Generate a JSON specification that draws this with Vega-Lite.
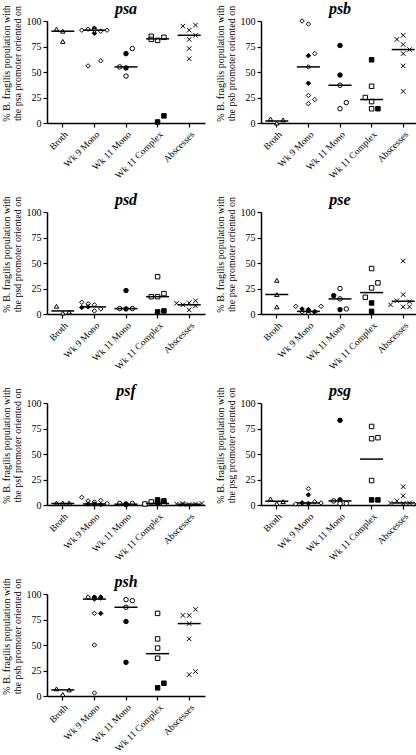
{
"$schema":"https://vega.github.io/schema/vega-lite/v6.json",
"padding":{"left":1,"top":0,"right":0,"bottom":0},
"columns":2,
"spacing":{"row":11,"column":8},
"datasets":{
"pts":[
{"g":"psa","grp":"Broth","f":"open","r":2,"v":92},{"g":"psa","grp":"Broth","f":"open","r":3,"v":90},{"g":"psa","grp":"Broth","f":"open","r":3,"v":80},
{"g":"psa","grp":"Wk 9 Mono","f":"open","r":1,"v":91},{"g":"psa","grp":"Wk 9 Mono","f":"open","r":2,"v":92},{"g":"psa","grp":"Wk 9 Mono","f":"open","r":4,"v":90},{"g":"psa","grp":"Wk 9 Mono","f":"open","r":5,"v":91},{"g":"psa","grp":"Wk 9 Mono","f":"solid","r":3,"v":93},{"g":"psa","grp":"Wk 9 Mono","f":"solid","r":3,"v":88},{"g":"psa","grp":"Wk 9 Mono","f":"open","r":2,"v":56},{"g":"psa","grp":"Wk 9 Mono","f":"open","r":4,"v":61},{"g":"psa","grp":"Wk 9 Mono","f":"open","r":3,"v":91},
{"g":"psa","grp":"Wk 11 Mono","f":"open","r":2,"v":55},{"g":"psa","grp":"Wk 11 Mono","f":"open","r":3,"v":46},{"g":"psa","grp":"Wk 11 Mono","f":"open","r":4,"v":73},{"g":"psa","grp":"Wk 11 Mono","f":"solid","r":3,"v":68},{"g":"psa","grp":"Wk 11 Mono","f":"solid","r":3,"v":54},
{"g":"psa","grp":"Wk 11 Complex","f":"open","r":2,"v":85},{"g":"psa","grp":"Wk 11 Complex","f":"open","r":2,"v":82},{"g":"psa","grp":"Wk 11 Complex","f":"open","r":3,"v":81},{"g":"psa","grp":"Wk 11 Complex","f":"open","r":4,"v":84},{"g":"psa","grp":"Wk 11 Complex","f":"solid","r":3,"v":1},{"g":"psa","grp":"Wk 11 Complex","f":"solid","r":4,"v":7},
{"g":"psa","grp":"Abscesses","f":"open","r":2,"v":95},{"g":"psa","grp":"Abscesses","f":"open","r":3,"v":91},{"g":"psa","grp":"Abscesses","f":"open","r":4,"v":96},{"g":"psa","grp":"Abscesses","f":"open","r":3,"v":82},{"g":"psa","grp":"Abscesses","f":"open","r":3,"v":73},{"g":"psa","grp":"Abscesses","f":"open","r":3,"v":63},{"g":"psa","grp":"Abscesses","f":"open","r":4,"v":86},

{"g":"psb","grp":"Broth","f":"open","r":2,"v":4},{"g":"psb","grp":"Broth","f":"open","r":3,"v":0},{"g":"psb","grp":"Broth","f":"open","r":4,"v":3},
{"g":"psb","grp":"Wk 9 Mono","f":"open","r":2,"v":100},{"g":"psb","grp":"Wk 9 Mono","f":"open","r":3,"v":97},{"g":"psb","grp":"Wk 9 Mono","f":"open","r":4,"v":68},{"g":"psb","grp":"Wk 9 Mono","f":"open","r":3,"v":55},{"g":"psb","grp":"Wk 9 Mono","f":"open","r":3,"v":27},{"g":"psb","grp":"Wk 9 Mono","f":"open","r":4,"v":23},{"g":"psb","grp":"Wk 9 Mono","f":"open","r":3,"v":19},{"g":"psb","grp":"Wk 9 Mono","f":"solid","r":3,"v":66},{"g":"psb","grp":"Wk 9 Mono","f":"solid","r":3,"v":39},
{"g":"psb","grp":"Wk 11 Mono","f":"solid","r":3,"v":76},{"g":"psb","grp":"Wk 11 Mono","f":"solid","r":3,"v":47},{"g":"psb","grp":"Wk 11 Mono","f":"open","r":3,"v":37},{"g":"psb","grp":"Wk 11 Mono","f":"open","r":3,"v":14},{"g":"psb","grp":"Wk 11 Mono","f":"open","r":4,"v":20},
{"g":"psb","grp":"Wk 11 Complex","f":"solid","r":3,"v":62},{"g":"psb","grp":"Wk 11 Complex","f":"solid","r":4,"v":14},{"g":"psb","grp":"Wk 11 Complex","f":"open","r":3,"v":36},{"g":"psb","grp":"Wk 11 Complex","f":"open","r":2,"v":25},{"g":"psb","grp":"Wk 11 Complex","f":"open","r":3,"v":21},{"g":"psb","grp":"Wk 11 Complex","f":"open","r":3,"v":14},
{"g":"psb","grp":"Abscesses","f":"open","r":2,"v":82},{"g":"psb","grp":"Abscesses","f":"open","r":3,"v":86},{"g":"psb","grp":"Abscesses","f":"open","r":3,"v":77},{"g":"psb","grp":"Abscesses","f":"open","r":4,"v":72},{"g":"psb","grp":"Abscesses","f":"open","r":3,"v":68},{"g":"psb","grp":"Abscesses","f":"open","r":3,"v":56},{"g":"psb","grp":"Abscesses","f":"open","r":3,"v":31},

{"g":"psd","grp":"Broth","f":"open","r":2,"v":7.6},{"g":"psd","grp":"Broth","f":"open","r":3,"v":1},{"g":"psd","grp":"Broth","f":"open","r":4,"v":2},
{"g":"psd","grp":"Wk 9 Mono","f":"open","r":1,"v":11.5},{"g":"psd","grp":"Wk 9 Mono","f":"open","r":2,"v":10},{"g":"psd","grp":"Wk 9 Mono","f":"open","r":3,"v":9},{"g":"psd","grp":"Wk 9 Mono","f":"open","r":4,"v":5},{"g":"psd","grp":"Wk 9 Mono","f":"open","r":3,"v":3},{"g":"psd","grp":"Wk 9 Mono","f":"solid","r":1,"v":6.3},{"g":"psd","grp":"Wk 9 Mono","f":"solid","r":2,"v":7},
{"g":"psd","grp":"Wk 11 Mono","f":"solid","r":3,"v":23},{"g":"psd","grp":"Wk 11 Mono","f":"solid","r":3,"v":5},{"g":"psd","grp":"Wk 11 Mono","f":"open","r":2,"v":5.3},{"g":"psd","grp":"Wk 11 Mono","f":"open","r":4,"v":5.3},
{"g":"psd","grp":"Wk 11 Complex","f":"open","r":3,"v":36.6},{"g":"psd","grp":"Wk 11 Complex","f":"open","r":4,"v":20},{"g":"psd","grp":"Wk 11 Complex","f":"open","r":2,"v":17},{"g":"psd","grp":"Wk 11 Complex","f":"open","r":3,"v":17},{"g":"psd","grp":"Wk 11 Complex","f":"solid","r":3,"v":2},{"g":"psd","grp":"Wk 11 Complex","f":"solid","r":4,"v":3},
{"g":"psd","grp":"Abscesses","f":"open","r":1,"v":10.5},{"g":"psd","grp":"Abscesses","f":"open","r":2,"v":9},{"g":"psd","grp":"Abscesses","f":"open","r":3,"v":11},{"g":"psd","grp":"Abscesses","f":"open","r":4,"v":13},{"g":"psd","grp":"Abscesses","f":"open","r":3,"v":4},{"g":"psd","grp":"Abscesses","f":"open","r":4,"v":8},

{"g":"pse","grp":"Broth","f":"open","r":3,"v":33},{"g":"pse","grp":"Broth","f":"open","r":3,"v":19},{"g":"pse","grp":"Broth","f":"open","r":3,"v":7},
{"g":"pse","grp":"Wk 9 Mono","f":"open","r":1,"v":7.5},{"g":"pse","grp":"Wk 9 Mono","f":"open","r":5,"v":7.5},{"g":"pse","grp":"Wk 9 Mono","f":"open","r":2,"v":2},{"g":"pse","grp":"Wk 9 Mono","f":"open","r":4,"v":1.5},{"g":"pse","grp":"Wk 9 Mono","f":"open","r":3,"v":1},{"g":"pse","grp":"Wk 9 Mono","f":"solid","r":2,"v":5},{"g":"pse","grp":"Wk 9 Mono","f":"solid","r":3,"v":4.5},{"g":"pse","grp":"Wk 9 Mono","f":"solid","r":4,"v":2.5},{"g":"pse","grp":"Wk 9 Mono","f":"solid","r":3,"v":3},
{"g":"pse","grp":"Wk 11 Mono","f":"solid","r":2,"v":18},{"g":"pse","grp":"Wk 11 Mono","f":"solid","r":3,"v":4.3},{"g":"pse","grp":"Wk 11 Mono","f":"open","r":3,"v":25},{"g":"pse","grp":"Wk 11 Mono","f":"open","r":3,"v":14.8},{"g":"pse","grp":"Wk 11 Mono","f":"open","r":4,"v":5},
{"g":"pse","grp":"Wk 11 Complex","f":"open","r":3,"v":44.6},{"g":"pse","grp":"Wk 11 Complex","f":"open","r":4,"v":30.5},{"g":"pse","grp":"Wk 11 Complex","f":"open","r":3,"v":25.6},{"g":"pse","grp":"Wk 11 Complex","f":"open","r":2,"v":16.4},{"g":"pse","grp":"Wk 11 Complex","f":"solid","r":3,"v":10.8},{"g":"pse","grp":"Wk 11 Complex","f":"solid","r":3,"v":2.6},
{"g":"pse","grp":"Abscesses","f":"open","r":3,"v":52},{"g":"pse","grp":"Abscesses","f":"open","r":3,"v":19},{"g":"pse","grp":"Abscesses","f":"open","r":2,"v":13},{"g":"pse","grp":"Abscesses","f":"open","r":4,"v":12},{"g":"pse","grp":"Abscesses","f":"open","r":1,"v":9},{"g":"pse","grp":"Abscesses","f":"open","r":3,"v":7},{"g":"pse","grp":"Abscesses","f":"open","r":4,"v":7},

{"g":"psf","grp":"Broth","f":"open","r":2,"v":2},{"g":"psf","grp":"Broth","f":"open","r":3,"v":2},{"g":"psf","grp":"Broth","f":"open","r":4,"v":2},
{"g":"psf","grp":"Wk 9 Mono","f":"open","r":1,"v":7.5},{"g":"psf","grp":"Wk 9 Mono","f":"open","r":2,"v":4},{"g":"psf","grp":"Wk 9 Mono","f":"open","r":3,"v":3},{"g":"psf","grp":"Wk 9 Mono","f":"open","r":4,"v":4.5},{"g":"psf","grp":"Wk 9 Mono","f":"open","r":5,"v":1.5},{"g":"psf","grp":"Wk 9 Mono","f":"solid","r":2,"v":1},{"g":"psf","grp":"Wk 9 Mono","f":"solid","r":3,"v":1},{"g":"psf","grp":"Wk 9 Mono","f":"solid","r":4,"v":0.5},
{"g":"psf","grp":"Wk 11 Mono","f":"open","r":2,"v":1.5},{"g":"psf","grp":"Wk 11 Mono","f":"open","r":4,"v":1.5},{"g":"psf","grp":"Wk 11 Mono","f":"open","r":3,"v":1},{"g":"psf","grp":"Wk 11 Mono","f":"solid","r":3,"v":0.5},
{"g":"psf","grp":"Wk 11 Complex","f":"open","r":2,"v":3},{"g":"psf","grp":"Wk 11 Complex","f":"open","r":3,"v":2},{"g":"psf","grp":"Wk 11 Complex","f":"open","r":1,"v":1},{"g":"psf","grp":"Wk 11 Complex","f":"open","r":4,"v":1.5},{"g":"psf","grp":"Wk 11 Complex","f":"solid","r":3,"v":5},{"g":"psf","grp":"Wk 11 Complex","f":"solid","r":4,"v":4},{"g":"psf","grp":"Wk 11 Complex","f":"solid","r":3,"v":2},
{"g":"psf","grp":"Abscesses","f":"open","r":1,"v":1},{"g":"psf","grp":"Abscesses","f":"open","r":2,"v":1.5},{"g":"psf","grp":"Abscesses","f":"open","r":3,"v":0.5},{"g":"psf","grp":"Abscesses","f":"open","r":4,"v":1},{"g":"psf","grp":"Abscesses","f":"open","r":5,"v":1.5},{"g":"psf","grp":"Abscesses","f":"open","r":2,"v":0.5},

{"g":"psg","grp":"Broth","f":"open","r":2,"v":6},{"g":"psg","grp":"Broth","f":"open","r":3,"v":1.5},{"g":"psg","grp":"Broth","f":"open","r":4,"v":3.3},
{"g":"psg","grp":"Wk 9 Mono","f":"open","r":3,"v":16},{"g":"psg","grp":"Wk 9 Mono","f":"open","r":2,"v":2},{"g":"psg","grp":"Wk 9 Mono","f":"open","r":4,"v":3},{"g":"psg","grp":"Wk 9 Mono","f":"open","r":1,"v":1},{"g":"psg","grp":"Wk 9 Mono","f":"open","r":5,"v":2},{"g":"psg","grp":"Wk 9 Mono","f":"solid","r":3,"v":10},{"g":"psg","grp":"Wk 9 Mono","f":"solid","r":3,"v":1.5},{"g":"psg","grp":"Wk 9 Mono","f":"solid","r":2,"v":2},
{"g":"psg","grp":"Wk 11 Mono","f":"solid","r":3,"v":83},{"g":"psg","grp":"Wk 11 Mono","f":"solid","r":3,"v":5},{"g":"psg","grp":"Wk 11 Mono","f":"open","r":2,"v":4},{"g":"psg","grp":"Wk 11 Mono","f":"open","r":3,"v":1.5},{"g":"psg","grp":"Wk 11 Mono","f":"open","r":4,"v":1.5},
{"g":"psg","grp":"Wk 11 Complex","f":"open","r":3,"v":77},{"g":"psg","grp":"Wk 11 Complex","f":"open","r":3,"v":65},{"g":"psg","grp":"Wk 11 Complex","f":"open","r":4,"v":66},{"g":"psg","grp":"Wk 11 Complex","f":"open","r":3,"v":24},{"g":"psg","grp":"Wk 11 Complex","f":"solid","r":3,"v":5},{"g":"psg","grp":"Wk 11 Complex","f":"solid","r":4,"v":5},
{"g":"psg","grp":"Abscesses","f":"open","r":3,"v":18},{"g":"psg","grp":"Abscesses","f":"open","r":3,"v":9},{"g":"psg","grp":"Abscesses","f":"open","r":2,"v":4},{"g":"psg","grp":"Abscesses","f":"open","r":1,"v":2},{"g":"psg","grp":"Abscesses","f":"open","r":3,"v":1.5},{"g":"psg","grp":"Abscesses","f":"open","r":4,"v":2},{"g":"psg","grp":"Abscesses","f":"open","r":5,"v":1},

{"g":"psh","grp":"Broth","f":"open","r":2,"v":7},{"g":"psh","grp":"Broth","f":"open","r":3,"v":1.5},{"g":"psh","grp":"Broth","f":"open","r":4,"v":6},
{"g":"psh","grp":"Wk 9 Mono","f":"open","r":2,"v":97},{"g":"psh","grp":"Wk 9 Mono","f":"open","r":4,"v":96},{"g":"psh","grp":"Wk 9 Mono","f":"open","r":3,"v":95},{"g":"psh","grp":"Wk 9 Mono","f":"open","r":3,"v":81},{"g":"psh","grp":"Wk 9 Mono","f":"open","r":3,"v":50},{"g":"psh","grp":"Wk 9 Mono","f":"open","r":3,"v":3},{"g":"psh","grp":"Wk 9 Mono","f":"solid","r":3,"v":97},{"g":"psh","grp":"Wk 9 Mono","f":"solid","r":3,"v":96},{"g":"psh","grp":"Wk 9 Mono","f":"solid","r":4,"v":81},{"g":"psh","grp":"Wk 9 Mono","f":"solid","r":4,"v":97},
{"g":"psh","grp":"Wk 11 Mono","f":"open","r":3,"v":94.5},{"g":"psh","grp":"Wk 11 Mono","f":"open","r":4,"v":93.5},{"g":"psh","grp":"Wk 11 Mono","f":"open","r":3,"v":87},{"g":"psh","grp":"Wk 11 Mono","f":"solid","r":3,"v":73},{"g":"psh","grp":"Wk 11 Mono","f":"solid","r":3,"v":33},
{"g":"psh","grp":"Wk 11 Complex","f":"open","r":3,"v":81},{"g":"psh","grp":"Wk 11 Complex","f":"open","r":3,"v":56},{"g":"psh","grp":"Wk 11 Complex","f":"open","r":3,"v":47},{"g":"psh","grp":"Wk 11 Complex","f":"open","r":3,"v":37},{"g":"psh","grp":"Wk 11 Complex","f":"solid","r":3,"v":8},{"g":"psh","grp":"Wk 11 Complex","f":"solid","r":4,"v":12.5},
{"g":"psh","grp":"Abscesses","f":"open","r":2,"v":79},{"g":"psh","grp":"Abscesses","f":"open","r":3,"v":79},{"g":"psh","grp":"Abscesses","f":"open","r":4,"v":85},{"g":"psh","grp":"Abscesses","f":"open","r":3,"v":71},{"g":"psh","grp":"Abscesses","f":"open","r":3,"v":56},{"g":"psh","grp":"Abscesses","f":"open","r":3,"v":21},{"g":"psh","grp":"Abscesses","f":"open","r":4,"v":24}
],
"med":[
{"g":"psa","grp":"Broth","v":90},{"g":"psa","grp":"Wk 9 Mono","v":91},{"g":"psa","grp":"Wk 11 Mono","v":55},{"g":"psa","grp":"Wk 11 Complex","v":82.5},{"g":"psa","grp":"Abscesses","v":86},
{"g":"psb","grp":"Broth","v":2},{"g":"psb","grp":"Wk 9 Mono","v":55},{"g":"psb","grp":"Wk 11 Mono","v":37},{"g":"psb","grp":"Wk 11 Complex","v":23},{"g":"psb","grp":"Abscesses","v":72},
{"g":"psd","grp":"Broth","v":3},{"g":"psd","grp":"Wk 9 Mono","v":7},{"g":"psd","grp":"Wk 11 Mono","v":5.3},{"g":"psd","grp":"Wk 11 Complex","v":17},{"g":"psd","grp":"Abscesses","v":9},
{"g":"pse","grp":"Broth","v":19},{"g":"pse","grp":"Wk 9 Mono","v":2.6},{"g":"pse","grp":"Wk 11 Mono","v":14.8},{"g":"pse","grp":"Wk 11 Complex","v":21},{"g":"pse","grp":"Abscesses","v":12.5},
{"g":"psf","grp":"Broth","v":1.5},{"g":"psf","grp":"Wk 9 Mono","v":1},{"g":"psf","grp":"Wk 11 Mono","v":0.8},{"g":"psf","grp":"Wk 11 Complex","v":1.5},{"g":"psf","grp":"Abscesses","v":0.8},
{"g":"psg","grp":"Broth","v":3.6},{"g":"psg","grp":"Wk 9 Mono","v":2},{"g":"psg","grp":"Wk 11 Mono","v":4},{"g":"psg","grp":"Wk 11 Complex","v":45},{"g":"psg","grp":"Abscesses","v":2},
{"g":"psh","grp":"Broth","v":6},{"g":"psh","grp":"Wk 9 Mono","v":95},{"g":"psh","grp":"Wk 11 Mono","v":87},{"g":"psh","grp":"Wk 11 Complex","v":41.5},{"g":"psh","grp":"Abscesses","v":71}
]
},
"concat":[
{"title":"psa","width":158,"height":102,"layer":[
{"data":{"name":"pts"},"transform":[{"filter":"datum.g==='psa'"}],"mark":{"type":"point","filled":true,"stroke":"black","strokeWidth":1,"size":20,"opacity":1},
"encoding":{"x":{"field":"grp","type":"nominal","sort":null,"scale":{"domain":["Broth","Wk 9 Mono","Wk 11 Mono","Wk 11 Complex","Abscesses"],"paddingInner":0,"paddingOuter":0},"axis":{"title":null}},
"xOffset":{"field":"r","type":"ordinal","scale":{"domain":[1,2,3,4,5]}},
"y":{"field":"v","type":"quantitative","scale":{"domain":[0,100]},"axis":{"values":[0,25,50,75,100],"labelOverlap":false,"titleY":42,"title":["% B. fragilis population with","the psa promoter oriented on"]}},
"shape":{"field":"grp","type":"nominal","scale":{"domain":["Broth","Wk 9 Mono","Wk 11 Mono","Wk 11 Complex","Abscesses"],"range":["triangle-up","diamond","circle","square","M-1,-1L1,1M-1,1L1,-1"]},"legend":null},
"fill":{"field":"f","type":"nominal","scale":{"domain":["open","solid"],"range":["white","black"]},"legend":null}}},
{"data":{"name":"med"},"transform":[{"filter":"datum.g==='psa'"}],"mark":{"type":"tick","color":"black","thickness":1.5,"size":23,"opacity":1},
"encoding":{"x":{"field":"grp","type":"nominal","sort":null,"axis":{"title":null}},"y":{"field":"v","type":"quantitative","axis":{"values":[0,25,50,75,100],"labelOverlap":false,"titleY":42,"title":["% B. fragilis population with","the psa promoter oriented on"]}}}}]},
{"title":"psb","width":158,"height":102,"layer":[
{"data":{"name":"pts"},"transform":[{"filter":"datum.g==='psb'"}],"mark":{"type":"point","filled":true,"stroke":"black","strokeWidth":1,"size":20,"opacity":1},
"encoding":{"x":{"field":"grp","type":"nominal","sort":null,"scale":{"domain":["Broth","Wk 9 Mono","Wk 11 Mono","Wk 11 Complex","Abscesses"],"paddingInner":0,"paddingOuter":0},"axis":{"title":null}},
"xOffset":{"field":"r","type":"ordinal","scale":{"domain":[1,2,3,4,5]}},
"y":{"field":"v","type":"quantitative","scale":{"domain":[0,100]},"axis":{"values":[0,25,50,75,100],"labelOverlap":false,"titleY":42,"title":["% B. fragilis population with","the psb promoter oriented on"]}},
"shape":{"field":"grp","type":"nominal","scale":{"domain":["Broth","Wk 9 Mono","Wk 11 Mono","Wk 11 Complex","Abscesses"],"range":["triangle-up","diamond","circle","square","M-1,-1L1,1M-1,1L1,-1"]},"legend":null},
"fill":{"field":"f","type":"nominal","scale":{"domain":["open","solid"],"range":["white","black"]},"legend":null}}},
{"data":{"name":"med"},"transform":[{"filter":"datum.g==='psb'"}],"mark":{"type":"tick","color":"black","thickness":1.5,"size":23,"opacity":1},
"encoding":{"x":{"field":"grp","type":"nominal","sort":null,"axis":{"title":null}},"y":{"field":"v","type":"quantitative","axis":{"values":[0,25,50,75,100],"labelOverlap":false,"titleY":42,"title":["% B. fragilis population with","the psb promoter oriented on"]}}}}]},
{"title":"psd","width":158,"height":102,"layer":[
{"data":{"name":"pts"},"transform":[{"filter":"datum.g==='psd'"}],"mark":{"type":"point","filled":true,"stroke":"black","strokeWidth":1,"size":20,"opacity":1},
"encoding":{"x":{"field":"grp","type":"nominal","sort":null,"scale":{"domain":["Broth","Wk 9 Mono","Wk 11 Mono","Wk 11 Complex","Abscesses"],"paddingInner":0,"paddingOuter":0},"axis":{"title":null}},
"xOffset":{"field":"r","type":"ordinal","scale":{"domain":[1,2,3,4,5]}},
"y":{"field":"v","type":"quantitative","scale":{"domain":[0,100]},"axis":{"values":[0,25,50,75,100],"labelOverlap":false,"titleY":42,"title":["% B. fragilis population with","the psd promoter oriented on"]}},
"shape":{"field":"grp","type":"nominal","scale":{"domain":["Broth","Wk 9 Mono","Wk 11 Mono","Wk 11 Complex","Abscesses"],"range":["triangle-up","diamond","circle","square","M-1,-1L1,1M-1,1L1,-1"]},"legend":null},
"fill":{"field":"f","type":"nominal","scale":{"domain":["open","solid"],"range":["white","black"]},"legend":null}}},
{"data":{"name":"med"},"transform":[{"filter":"datum.g==='psd'"}],"mark":{"type":"tick","color":"black","thickness":1.5,"size":23,"opacity":1},
"encoding":{"x":{"field":"grp","type":"nominal","sort":null,"axis":{"title":null}},"y":{"field":"v","type":"quantitative","axis":{"values":[0,25,50,75,100],"labelOverlap":false,"titleY":42,"title":["% B. fragilis population with","the psd promoter oriented on"]}}}}]},
{"title":"pse","width":158,"height":102,"layer":[
{"data":{"name":"pts"},"transform":[{"filter":"datum.g==='pse'"}],"mark":{"type":"point","filled":true,"stroke":"black","strokeWidth":1,"size":20,"opacity":1},
"encoding":{"x":{"field":"grp","type":"nominal","sort":null,"scale":{"domain":["Broth","Wk 9 Mono","Wk 11 Mono","Wk 11 Complex","Abscesses"],"paddingInner":0,"paddingOuter":0},"axis":{"title":null}},
"xOffset":{"field":"r","type":"ordinal","scale":{"domain":[1,2,3,4,5]}},
"y":{"field":"v","type":"quantitative","scale":{"domain":[0,100]},"axis":{"values":[0,25,50,75,100],"labelOverlap":false,"titleY":42,"title":["% B. fragilis population with","the pse promoter oriented on"]}},
"shape":{"field":"grp","type":"nominal","scale":{"domain":["Broth","Wk 9 Mono","Wk 11 Mono","Wk 11 Complex","Abscesses"],"range":["triangle-up","diamond","circle","square","M-1,-1L1,1M-1,1L1,-1"]},"legend":null},
"fill":{"field":"f","type":"nominal","scale":{"domain":["open","solid"],"range":["white","black"]},"legend":null}}},
{"data":{"name":"med"},"transform":[{"filter":"datum.g==='pse'"}],"mark":{"type":"tick","color":"black","thickness":1.5,"size":23,"opacity":1},
"encoding":{"x":{"field":"grp","type":"nominal","sort":null,"axis":{"title":null}},"y":{"field":"v","type":"quantitative","axis":{"values":[0,25,50,75,100],"labelOverlap":false,"titleY":42,"title":["% B. fragilis population with","the pse promoter oriented on"]}}}}]},
{"title":"psf","width":158,"height":102,"layer":[
{"data":{"name":"pts"},"transform":[{"filter":"datum.g==='psf'"}],"mark":{"type":"point","filled":true,"stroke":"black","strokeWidth":1,"size":20,"opacity":1},
"encoding":{"x":{"field":"grp","type":"nominal","sort":null,"scale":{"domain":["Broth","Wk 9 Mono","Wk 11 Mono","Wk 11 Complex","Abscesses"],"paddingInner":0,"paddingOuter":0},"axis":{"title":null}},
"xOffset":{"field":"r","type":"ordinal","scale":{"domain":[1,2,3,4,5]}},
"y":{"field":"v","type":"quantitative","scale":{"domain":[0,100]},"axis":{"values":[0,25,50,75,100],"labelOverlap":false,"titleY":42,"title":["% B. fragilis population with","the psf promoter oriented on"]}},
"shape":{"field":"grp","type":"nominal","scale":{"domain":["Broth","Wk 9 Mono","Wk 11 Mono","Wk 11 Complex","Abscesses"],"range":["triangle-up","diamond","circle","square","M-1,-1L1,1M-1,1L1,-1"]},"legend":null},
"fill":{"field":"f","type":"nominal","scale":{"domain":["open","solid"],"range":["white","black"]},"legend":null}}},
{"data":{"name":"med"},"transform":[{"filter":"datum.g==='psf'"}],"mark":{"type":"tick","color":"black","thickness":1.5,"size":23,"opacity":1},
"encoding":{"x":{"field":"grp","type":"nominal","sort":null,"axis":{"title":null}},"y":{"field":"v","type":"quantitative","axis":{"values":[0,25,50,75,100],"labelOverlap":false,"titleY":42,"title":["% B. fragilis population with","the psf promoter oriented on"]}}}}]},
{"title":"psg","width":158,"height":102,"layer":[
{"data":{"name":"pts"},"transform":[{"filter":"datum.g==='psg'"}],"mark":{"type":"point","filled":true,"stroke":"black","strokeWidth":1,"size":20,"opacity":1},
"encoding":{"x":{"field":"grp","type":"nominal","sort":null,"scale":{"domain":["Broth","Wk 9 Mono","Wk 11 Mono","Wk 11 Complex","Abscesses"],"paddingInner":0,"paddingOuter":0},"axis":{"title":null}},
"xOffset":{"field":"r","type":"ordinal","scale":{"domain":[1,2,3,4,5]}},
"y":{"field":"v","type":"quantitative","scale":{"domain":[0,100]},"axis":{"values":[0,25,50,75,100],"labelOverlap":false,"titleY":42,"title":["% B. fragilis population with","the psg promoter oriented on"]}},
"shape":{"field":"grp","type":"nominal","scale":{"domain":["Broth","Wk 9 Mono","Wk 11 Mono","Wk 11 Complex","Abscesses"],"range":["triangle-up","diamond","circle","square","M-1,-1L1,1M-1,1L1,-1"]},"legend":null},
"fill":{"field":"f","type":"nominal","scale":{"domain":["open","solid"],"range":["white","black"]},"legend":null}}},
{"data":{"name":"med"},"transform":[{"filter":"datum.g==='psg'"}],"mark":{"type":"tick","color":"black","thickness":1.5,"size":23,"opacity":1},
"encoding":{"x":{"field":"grp","type":"nominal","sort":null,"axis":{"title":null}},"y":{"field":"v","type":"quantitative","axis":{"values":[0,25,50,75,100],"labelOverlap":false,"titleY":42,"title":["% B. fragilis population with","the psg promoter oriented on"]}}}}]},
{"title":"psh","width":158,"height":102,"layer":[
{"data":{"name":"pts"},"transform":[{"filter":"datum.g==='psh'"}],"mark":{"type":"point","filled":true,"stroke":"black","strokeWidth":1,"size":20,"opacity":1},
"encoding":{"x":{"field":"grp","type":"nominal","sort":null,"scale":{"domain":["Broth","Wk 9 Mono","Wk 11 Mono","Wk 11 Complex","Abscesses"],"paddingInner":0,"paddingOuter":0},"axis":{"title":null}},
"xOffset":{"field":"r","type":"ordinal","scale":{"domain":[1,2,3,4,5]}},
"y":{"field":"v","type":"quantitative","scale":{"domain":[0,100]},"axis":{"values":[0,25,50,75,100],"labelOverlap":false,"titleY":42,"title":["% B. fragilis population with","the psh promoter oriented on"]}},
"shape":{"field":"grp","type":"nominal","scale":{"domain":["Broth","Wk 9 Mono","Wk 11 Mono","Wk 11 Complex","Abscesses"],"range":["triangle-up","diamond","circle","square","M-1,-1L1,1M-1,1L1,-1"]},"legend":null},
"fill":{"field":"f","type":"nominal","scale":{"domain":["open","solid"],"range":["white","black"]},"legend":null}}},
{"data":{"name":"med"},"transform":[{"filter":"datum.g==='psh'"}],"mark":{"type":"tick","color":"black","thickness":1.5,"size":23,"opacity":1},
"encoding":{"x":{"field":"grp","type":"nominal","sort":null,"axis":{"title":null}},"y":{"field":"v","type":"quantitative","axis":{"values":[0,25,50,75,100],"labelOverlap":false,"titleY":42,"title":["% B. fragilis population with","the psh promoter oriented on"]}}}}]}
],
"config":{
"background":"white",
"view":{"stroke":null},
"font":"Liberation Serif",
"axis":{"labelFont":"Liberation Serif","titleFont":"Liberation Serif","labelFontSize":10,"titleFontSize":10,"titleFontWeight":"normal","labelColor":"black","titleColor":"black","domainColor":"black","tickColor":"black","domainWidth":1.5,"tickWidth":1.2,"tickSize":4,"grid":false,"labelPadding":2,"titlePadding":4,"titleLineHeight":11},
"axisX":{"labelAngle":-45,"labelFontSize":9.5},
"title":{"font":"Liberation Serif","fontSize":16,"fontStyle":"italic","fontWeight":"bold","color":"black","offset":-12}
}
}
